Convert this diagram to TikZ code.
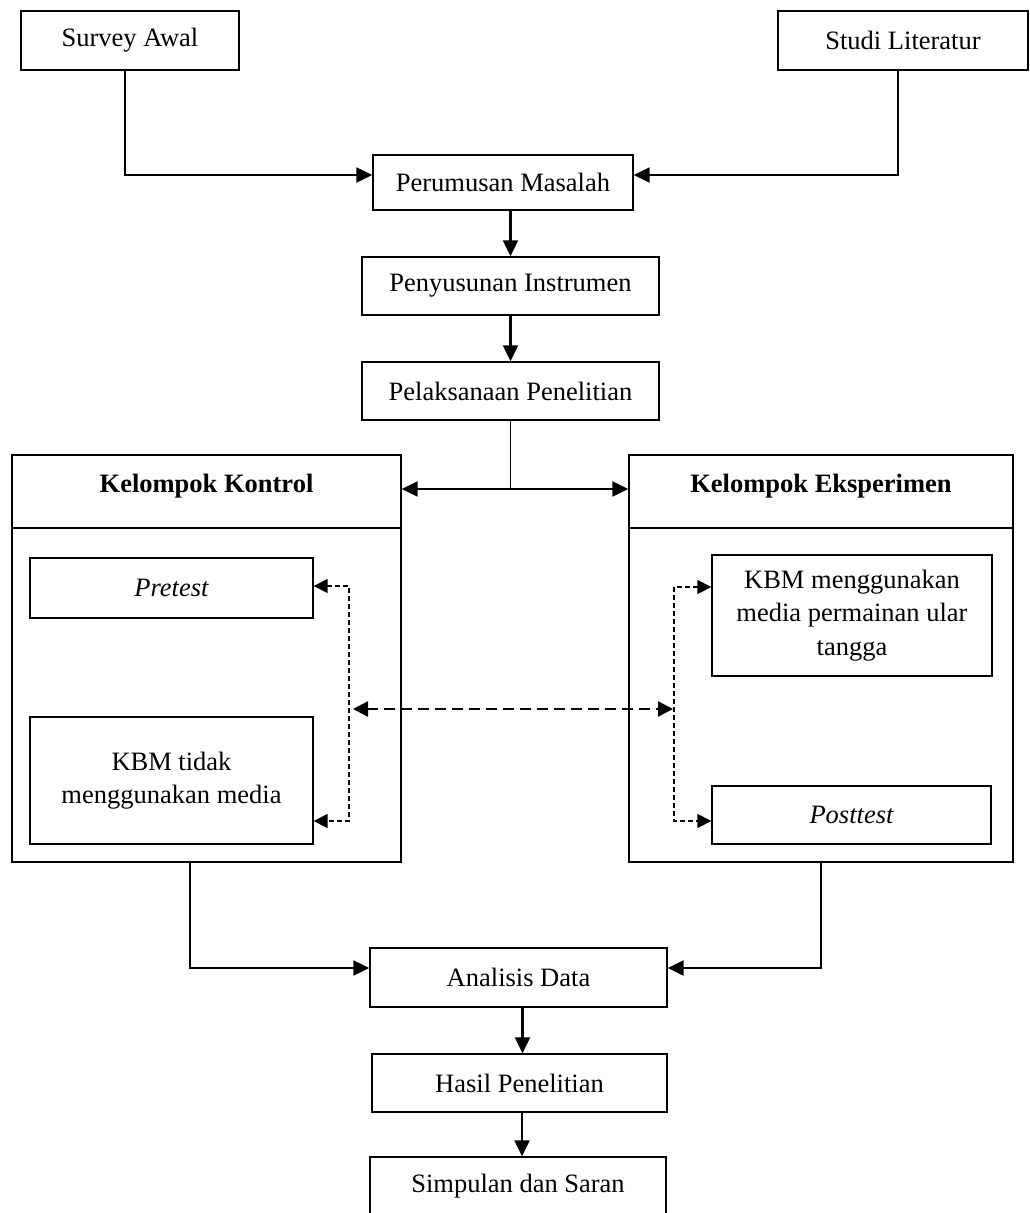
\documentclass[tikz,border=0pt]{standalone}
\usepackage{fontspec}
\setmainfont{Liberation Serif}
\usetikzlibrary{arrows.meta}
\begin{document}
\begin{tikzpicture}[x=1pt,y=-1pt,
  box/.style={draw, line width=1.4pt, inner sep=0pt, align=center,
    font=\fontsize{26.5}{33.5}\selectfont},
  ttl/.style={anchor=base, font=\fontsize{26.5}{33.5}\selectfont\bfseries},
  conn/.style={line width=2.3pt, -{Triangle[length=16pt,width=15pt]}},
  thinl/.style={line width=1.4pt},
  dthin/.style={line width=1.6pt, dash pattern=on 5pt off 3pt, {Triangle[length=14pt,width=14pt]}-{Triangle[length=14pt,width=14pt]}},
  dthick/.style={line width=2.4pt, dash pattern=on 11pt off 6pt, {Triangle[length=15pt,width=15pt]}-{Triangle[length=15pt,width=15pt]}}
]
\useasboundingbox (0,0) rectangle (1029,1213);
\clip (0,0) rectangle (1029,1213);
\fill[white] (0,0) rectangle (1029,1213);

% top
\node[box, minimum width=218pt, minimum height=59pt] (survey) at (130,40.5) {Survey Awal};
\node[box, minimum width=250pt, minimum height=59pt] (studi) at (903,40.5) {Studi Literatur};
\node[box, minimum width=260pt, minimum height=55pt] (perum) at (503,182.5) {Perumusan Masalah};
\node[box, minimum width=297pt, minimum height=58pt] (peny) at (510.5,286) {Penyusunan Instrumen};
\node[box, minimum width=297pt, minimum height=58pt] (pel) at (510.5,391) {Pelaksanaan Penelitian};

% groups
\node[box, minimum width=389pt, minimum height=407pt] (kontrol) at (206.5,658.5) {};
\node[box, minimum width=384pt, minimum height=407pt] (eksp) at (821,658.5) {};
\draw[thinl] (kontrol.west |- 0,528) -- (kontrol.east |- 0,528);
\draw[thinl] (eksp.west |- 0,528) -- (eksp.east |- 0,528);
\node[ttl] (kt) at (206.5,492) {Kelompok Kontrol};
\node[ttl] (et) at (821,492) {Kelompok Eksperimen};

\node[box, minimum width=283pt, minimum height=60pt] (pre) at (171.5,588) {\itshape Pretest};
\node[box, minimum width=283pt, minimum height=127pt] (kbm1) at (171.5,780.5) {KBM tidak\\menggunakan media};
\node[box, minimum width=280pt, minimum height=121pt] (kbm2) at (852,615.5) {KBM menggunakan\\media permainan ular\\tangga};
\node[box, minimum width=279pt, minimum height=58pt] (post) at (851.5,815) {\itshape Posttest};

% bottom
\node[box, minimum width=297pt, minimum height=59pt] (ana) at (518.5,977.5) {Analisis Data};
\node[box, minimum width=295pt, minimum height=58pt] (hasil) at (519.5,1083) {Hasil Penelitian};
\node[box, minimum width=296pt, minimum height=58pt] (simp) at (518,1186) {Simpulan dan Saran};

% connectors top
\draw[conn] ([xshift=-5pt]survey.south) |- ([yshift=7.5pt]perum.west);
\draw[conn] ([xshift=-5pt]studi.south) |- ([yshift=7.5pt]perum.east);
\draw[conn] (peny.north |- perum.south) -- (peny.north);
\draw[conn] (peny.south) -- (pel.north);
\coordinate (j) at (510.5,489);
\draw[thinl] (pel.south) -- (j);
\draw[conn] (j) -- (kontrol.east |- j);
\draw[conn] (j) -- (eksp.west |- j);

% dashed
\coordinate (lv1) at (349,586);
\coordinate (lv2) at (349,821);
\coordinate (rv1) at (674,587);
\coordinate (rv2) at (674,821);
\coordinate (lm) at (353,709);
\coordinate (rm) at (673,709);
\draw[dthin] (pre.east |- lv1) -- (lv1) -- (lv2) -- (kbm1.east |- lv2);
\draw[dthin] (kbm2.west |- rv1) -- (rv1) -- (rv2) -- (post.west |- rv2);
\draw[dthick] (lm) -- (rm);

% connectors bottom
\draw[conn] ([xshift=-16.5pt]kontrol.south) |- ([yshift=9.5pt]ana.west);
\draw[conn] (eksp.south) |- ([yshift=9.5pt]ana.east);
\draw[conn] ([xshift=4pt]ana.south) -- ([xshift=4pt]ana.south |- hasil.north);
\draw[conn] ([xshift=2.5pt]hasil.south) -- ([xshift=2.5pt]hasil.south |- simp.north);
\end{tikzpicture}
\end{document}
